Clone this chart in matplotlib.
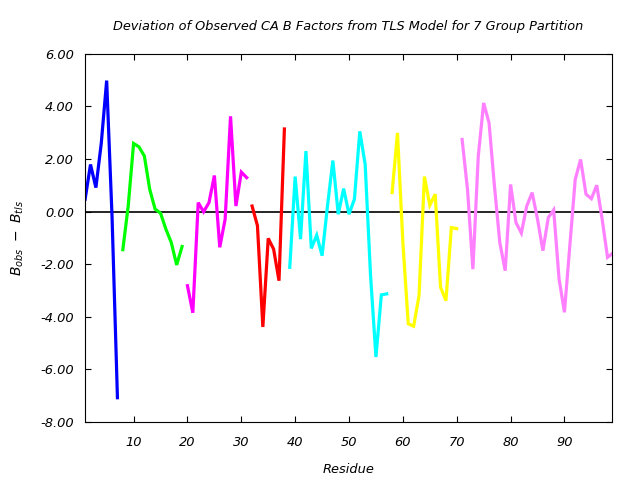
import matplotlib
matplotlib.use("Agg")
import matplotlib.pyplot as plt
from matplotlib.ticker import FormatStrFormatter

# residue ranges and deviation values for each TLS group
res_1 = list(range(1, 8))
dev_1 = [0.47, 1.79, 0.91, 2.6, 4.98, -0.2, -7.08]

res_2 = list(range(8, 20))
dev_2 = [-1.45, 0.21, 2.59, 2.46, 2.11, 0.84, 0.09, -0.06, -0.67, -1.18, -2.03, -1.33]

res_3 = list(range(20, 32))
dev_3 = [-2.82, -3.85, 0.34, -0.01, 0.34, 1.37, -1.36, -0.29, 3.62, 0.21, 1.5, 1.29]

res_4 = list(range(32, 39))
dev_4 = [0.21, -0.54, -4.39, -1.02, -1.43, -2.63, 3.14]

res_5 = list(range(39, 58))
dev_5 = [-2.12, 1.33, -1.05, 2.3, -1.4, -0.9, -1.68, 0.21, 1.94, -0.1,
         0.87, -0.1, 0.47, 3.05, 1.79, -2.44, -5.53, -3.17, -3.13]

res_6 = list(range(58, 71))
dev_6 = [0.72, 2.99, -1.18, -4.27, -4.36, -3.2, 1.33, 0.24, 0.66, -2.88, -3.39, -0.61, -0.65]

res_7 = list(range(71, 100))
dev_7 = [2.74, 0.84, -2.19, 2.11, 4.13, 3.37, 0.97, -1.18, -2.25, 1.03,
         -0.42, -0.82, 0.21, 0.72, -0.29, -1.49, -0.23, 0.06, -2.56, -3.83,
         -1.3, 1.22, 1.98, 0.66, 0.49, 1.0, -0.29, -1.74, -1.58]

groups = [(res_1, dev_1), (res_2, dev_2), (res_3, dev_3), (res_4, dev_4),
          (res_5, dev_5), (res_6, dev_6), (res_7, dev_7)]
colors = ["#0000ff", "#00ff00", "#ff00ff", "#ff0000", "#00ffff", "#ffff00", "#ff80ff"]

fig = plt.figure(figsize=(6.4, 4.8), dpi=100)
ax = fig.add_axes([0.133, 0.121, 0.823, 0.767])

ax.axhline(0, color="black", linewidth=1.2)
for (x, y), c in zip(groups, colors):
    ax.plot(x, y, color=c, linewidth=2.3, solid_joinstyle="miter")

ax.set_xlim(1, 98.8)
ax.set_ylim(-8, 6)
ax.set_xticks(range(10, 100, 10))
ax.set_yticks(range(-8, 7, 2))
ax.yaxis.set_major_formatter(FormatStrFormatter("%.2f"))
ax.tick_params(direction="in", top=True, right=True, length=4, labelsize=9.4)
for lab in ax.get_xticklabels() + ax.get_yticklabels():
    lab.set_fontstyle("italic")
ax.tick_params(axis="x", pad=10)
ax.tick_params(axis="y", pad=8)

ax.set_title("Deviation of Observed CA B Factors from TLS Model for 7 Group Partition",
             fontsize=9.3, fontstyle="italic", pad=17)
ax.set_xlabel("Residue", fontsize=9.4, fontstyle="italic", labelpad=10)
ax.set_ylabel(r"$B_{obs}\ -\ B_{tls}$", fontsize=10, labelpad=10)

fig.savefig("out.png", dpi=100)
